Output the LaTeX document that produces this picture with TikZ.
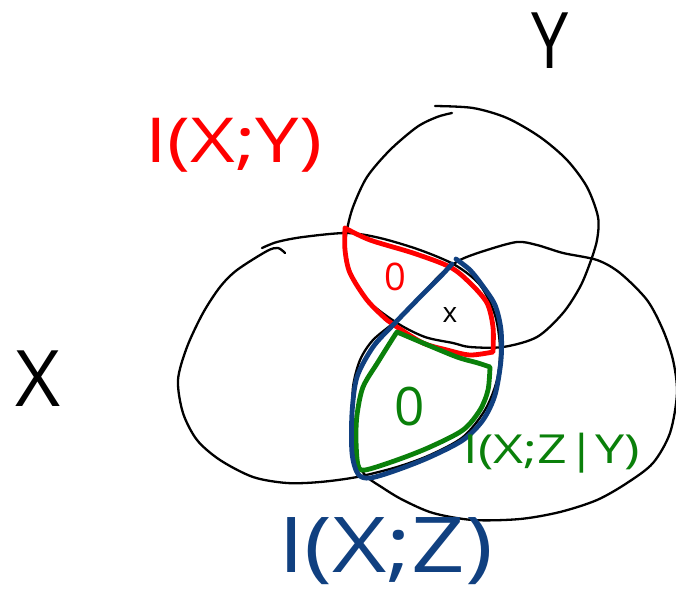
\documentclass[tikz,border=0pt]{standalone}
\usepackage{fontspec}
\setmainfont{Open Sans}
\definecolor{hred}{RGB}{255,0,0}
\definecolor{hgreen}{RGB}{10,128,10}
\definecolor{hblue}{RGB}{16,64,128}
\newcommand{\fs}[1]{\fontsize{#1}{#1}\selectfont}
\begin{document}
\begin{tikzpicture}[x=1pt,y=-1pt,
  circ/.style={line width=2.3pt, line cap=round, line join=round, black},
  lens/.style={line width=4.8pt, line cap=round, line join=round},
  lbl/.style={inner sep=0pt, anchor=base}]
\useasboundingbox (0,0) rectangle (676,590);
% X circle
\draw[circ] plot[smooth] coordinates {(285,253) (278,248) (267,251) (237,270) (220,287) (203,313) (187,347) (178,380) (183,413) (197,440) (220,460) (253,477) (287,483) (320,482) (357,477) (397,467) (430,455) (463,437) (485,410) (497,380) (500,348) (495,315) (480,285) (455,265) (420,250) (380,238) (347,233) (303,237) (277,242) (262,248)};
% Y circle
\draw[circ] plot[smooth] coordinates {(435,106) (473,108) (507,118) (540,137) (567,160) (587,187) (598,217) (597,240) (590,263) (580,287) (563,313) (537,337) (503,347) (470,347) (453,343) (425,337) (397,323) (367,300) (350,273) (345,250) (347,230) (353,207) (367,177) (390,150) (417,127) (437,117) (452,113)};
% Z circle
\draw[circ] plot[smooth cycle] coordinates {(460,260) (487,250) (517,242) (537,245) (563,253) (597,260) (620,273) (647,300) (663,330) (673,360) (677,393) (670,433) (653,463) (627,483) (597,500) (560,512) (520,519) (473,520) (433,513) (403,500) (383,488) (365,475) (355,455) (353,420) (353,387) (360,360) (373,340) (397,320) (420,297) (440,275)};
% red lens
\draw[lens, hred] plot[smooth] coordinates {(345,228) (370,240) (413,253) (450,267) (470,283) (487,303) (493,327) (493,352)}
  -- plot[smooth] coordinates {(493,352) (470,355) (447,350) (423,343) (397,327) (387,320) (367,300) (350,273) (345,250) (345,228)};
% green lens
\draw[lens, hgreen] plot[smooth] coordinates {(397,332) (423,343) (457,357) (478,363) (490,367)}
  -- plot[smooth] coordinates {(490,367) (488,390) (480,410) (463,430) (430,447) (397,460) (365,470) (358,465) (356,440) (357,415) (363,387) (378,362) (393,338) (397,332)};
% blue lens
\draw[lens, hblue] plot[smooth] coordinates {(456,259) (470,270) (482,285) (495,305) (501,330) (501,360) (495,395) (483,420) (463,440) (430,457) (397,470) (370,478) (358,474) (352,453) (352,413) (357,377) (373,347) (393,325) (420,297) (440,277) (452,264)};
% labels
\node[lbl, xscale=0.85] (ly) at (550,68) {\fs{78}Y};
\node[lbl] (lx) at (38,406) {\fs{78}X};
\node[lbl, hred, xscale=1.25] (ixy) at (234,162) {\fs{62}I(X;Y)};
\node[lbl, hgreen, xscale=1.3] (ixzy) at (552,463) {\fs{40}I(X;Z|Y)};
\node[lbl, hblue, xscale=1.22] (ixz) at (386,572) {\fs{77}I(X;Z)};
\node[lbl, hred] (r0) at (395,290) {\fs{38}0};
\node[lbl, hgreen] (g0) at (410,425) {\fs{53}0};
\node[lbl] (cx) at (450,322) {\fs{28}x};
\end{tikzpicture}
\end{document}
